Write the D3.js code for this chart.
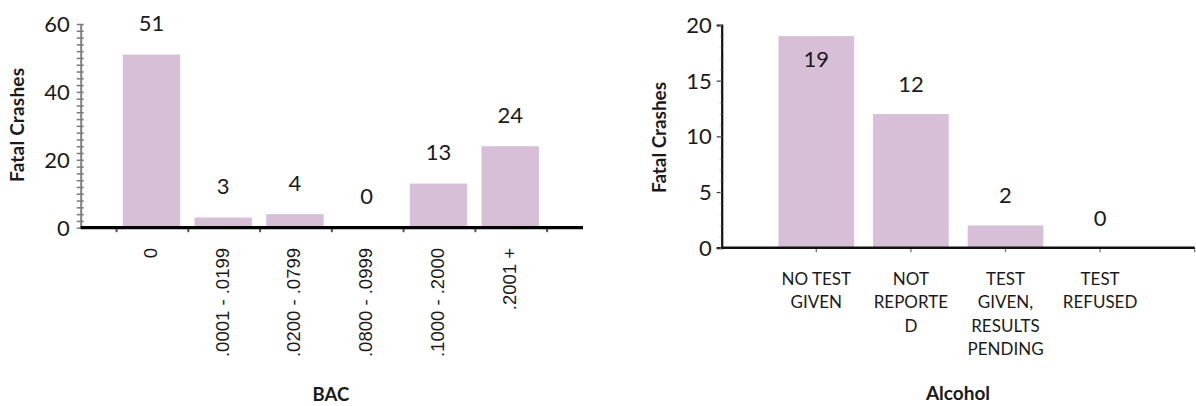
<!DOCTYPE html>
<html>
<head>
<meta charset="utf-8">
<script src="https://cdn.jsdelivr.net/npm/d3@7"></script>
<style>
  html, body { margin: 0; padding: 0; background: #fff; }
  svg { display: block; }
</style>
</head>
<body>
<svg id="chart" width="1196" height="406"></svg>
<script>
// ---------- data ----------
const bacCategories = ["0", ".0001 - .0199", ".0200 - .0799", ".0800 - .0999", ".1000 - .2000", ".2001 +"];
const bacValues = [51, 3, 4, 0, 13, 24];
const bacTicks = [0, 20, 40, 60];

const alcoholCategories = ["NO TEST GIVEN", "NOT REPORTED", "TEST GIVEN, RESULTS PENDING", "TEST REFUSED"];
const alcoholLabelLines = [["NO TEST", "GIVEN"], ["NOT", "REPORTE", "D"], ["TEST", "GIVEN,", "RESULTS", "PENDING"], ["TEST", "REFUSED"]];
const alcoholValues = [19, 12, 2, 0];
const alcoholTicks = [0, 5, 10, 15, 20];

const yTitle = "Fatal Crashes";
const bacTitle = "BAC";
const alcoholTitle = "Alcohol";

// ---------- styles ----------
const BAR = "#d8bfd8";
const TEXT = "#1a1a1a";
const NUM_FONT = "Lato, 'Open Sans', sans-serif";

const svg = d3.select("#chart");

// ================= LEFT CHART (BAC) =================
{
  const axX0 = 80.7, axX1 = 583, y0 = 227.7, yTop = 24;
  const step = (axX1 - axX0) / 7;
  const x = d3.scaleBand().domain(bacCategories)
    .range([axX0 + step / 2, axX1 - step / 2])
    .paddingInner(0.2).paddingOuter(0.1);
  const y = d3.scaleLinear().domain([0, 60]).range([y0, yTop]);
  const g = svg.append("g");

  g.selectAll("rect.bar").data(bacValues).join("rect")
    .attr("x", (d, i) => x(bacCategories[i]) - 1)
    .attr("width", x.bandwidth())
    .attr("y", d => y(d))
    .attr("height", d => y0 - y(d))
    .attr("fill", BAR);

  const yAxis = d3.axisLeft(y).tickValues(d3.range(0, 61, 2)).tickSize(0).tickFormat("");
  const ya = g.append("g").attr("transform", `translate(${axX0},0)`).call(yAxis);
  ya.select(".domain").attr("stroke", "#808080").attr("stroke-width", 2);
  ya.selectAll(".tick line").attr("x1", -4).attr("x2", 3).attr("stroke", "#7a7a7a").attr("stroke-width", 1.5);
  ya.selectAll(".tick text").remove();
  g.selectAll("text.ytick").data(bacTicks).join("text")
    .attr("x", axX0 - 11).attr("y", d => y(d)).attr("dy", "0.36em")
    .attr("text-anchor", "end").attr("font-family", NUM_FONT).attr("font-size", 22)
    .attr("fill", TEXT).text(d => d);

  const xa = d3.scaleLinear().domain([0, 7]).range([axX0, axX1]);
  g.selectAll("line.xt").data(d3.range(1, 8)).join("line")
    .attr("x1", d => xa(d - 0.5)).attr("x2", d => xa(d - 0.5))
    .attr("y1", y0).attr("y2", y0 + 4.5)
    .attr("stroke", "#555").attr("stroke-width", 2);
  g.append("line").attr("x1", axX0).attr("x2", axX1).attr("y1", y0).attr("y2", y0)
    .attr("stroke", "#000").attr("stroke-width", 3.2);

  g.selectAll("text.xlab").data(bacCategories).join("text")
    .attr("transform", d => `translate(${x(d) + x.bandwidth() / 2 - 2},${248}) rotate(-90)`)
    .attr("dy", "0.35em").attr("text-anchor", "end")
    .attr("font-family", "'Liberation Sans', Arial, sans-serif").attr("font-size", 18.5)
    .attr("fill", TEXT).text(d => d);

  g.selectAll("text.val").data(bacValues).join("text")
    .attr("x", (d, i) => x(bacCategories[i]) + x.bandwidth() / 2 - 1)
    .attr("y", d => y(d) - 23.5)
    .attr("text-anchor", "middle").attr("font-family", NUM_FONT).attr("font-size", 22)
    .attr("fill", TEXT).text(d => d);

  g.append("text").attr("transform", `translate(17,125) rotate(-90)`)
    .attr("dy", "0.35em").attr("text-anchor", "middle")
    .attr("font-family", NUM_FONT).attr("font-weight", 700).attr("font-size", 19)
    .attr("textLength", 114).attr("lengthAdjust", "spacing")
    .attr("fill", TEXT).text(yTitle);
  g.append("text").attr("x", (axX0 + axX1) / 2 - 1).attr("y", 401)
    .attr("text-anchor", "middle").attr("font-family", NUM_FONT)
    .attr("font-weight", 700).attr("font-size", 18.5).attr("fill", TEXT).text(bacTitle);
}

// ================= RIGHT CHART (Alcohol) =================
{
  const axX0 = 721.7, step = 94.6, y0 = 247.7, yTop = 25;
  const axX1 = axX0 + step * 5;
  const x = d3.scaleBand().domain(alcoholCategories)
    .range([axX0 + step / 2, axX0 + step * 4.5])
    .paddingInner(0.2).paddingOuter(0.1);
  const y = d3.scaleLinear().domain([0, 20]).range([y0, yTop]);
  const g = svg.append("g");

  g.selectAll("rect.bar").data(alcoholValues).join("rect")
    .attr("x", (d, i) => x(alcoholCategories[i]))
    .attr("width", x.bandwidth())
    .attr("y", d => y(d))
    .attr("height", d => y0 - y(d))
    .attr("fill", BAR);

  const yAxis = d3.axisLeft(y).tickValues(alcoholTicks).tickSize(5).tickFormat("");
  const ya = g.append("g").attr("transform", `translate(${axX0},0)`).call(yAxis);
  ya.select(".domain").attr("stroke", "#111").attr("stroke-width", 2.2);
  ya.selectAll(".tick line").attr("stroke", "#333").attr("stroke-width", 1.2);
  const yMinor = d3.axisLeft(y).tickValues(d3.range(0, 21, 1)).tickSize(2).tickFormat("");
  const ym = g.append("g").attr("transform", `translate(${axX0},0)`).call(yMinor);
  ym.select(".domain").remove();
  ym.selectAll(".tick line").attr("stroke", "#999").attr("stroke-width", 0.8);

  g.selectAll("text.ytick").data(alcoholTicks).join("text")
    .attr("x", axX0 - 10).attr("y", d => y(d)).attr("dy", "0.36em")
    .attr("text-anchor", "end").attr("font-family", NUM_FONT).attr("font-size", 22)
    .attr("fill", TEXT).text(d => d);

  const xa = d3.scaleLinear().domain([0, 5]).range([axX0, axX1]);
  g.selectAll("line.xt").data(d3.range(1, 6)).join("line")
    .attr("x1", d => xa(d)).attr("x2", d => xa(d))
    .attr("y1", y0).attr("y2", y0 + 4.5)
    .attr("stroke", "#777").attr("stroke-width", 1.3);
  g.append("line").attr("x1", axX0).attr("x2", axX1).attr("y1", y0).attr("y2", y0)
    .attr("stroke", "#111").attr("stroke-width", 2.6);

  const lab = g.selectAll("text.xlab").data(alcoholCategories).join("text")
    .attr("text-anchor", "middle").attr("font-family", NUM_FONT).attr("font-size", 17)
    .attr("fill", TEXT);
  lab.each(function (d, i) {
    const t = d3.select(this);
    alcoholLabelLines[i].forEach((ln, k) => {
      t.append("tspan").attr("x", x(d) + x.bandwidth() / 2).attr("y", 285 + k * 23.4).text(ln);
    });
  });

  g.selectAll("text.val").data(alcoholValues).join("text")
    .attr("x", (d, i) => x(alcoholCategories[i]) + x.bandwidth() / 2)
    .attr("y", d => (y(d) - 22 - 16 < 0 ? y(d) + 30.5 : y(d) - 22))
    .attr("text-anchor", "middle").attr("font-family", NUM_FONT).attr("font-size", 22)
    .attr("fill", TEXT).text(d => d);

  g.append("text").attr("transform", `translate(659,137.5) rotate(-90)`)
    .attr("dy", "0.35em").attr("text-anchor", "middle")
    .attr("font-family", NUM_FONT).attr("font-weight", 700).attr("font-size", 19)
    .attr("textLength", 111).attr("lengthAdjust", "spacing")
    .attr("fill", TEXT).text(yTitle);
  g.append("text").attr("x", 958).attr("y", 400)
    .attr("text-anchor", "middle").attr("font-family", NUM_FONT)
    .attr("font-weight", 700).attr("font-size", 19).attr("fill", TEXT).text(alcoholTitle);
}
</script>
</body>
</html>
